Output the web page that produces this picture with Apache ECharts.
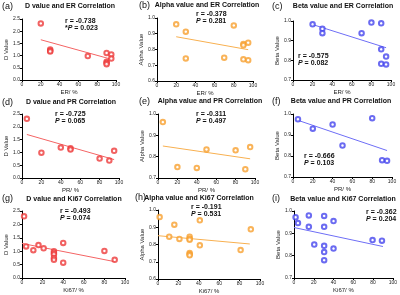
<!DOCTYPE html>
<html>
<head>
<meta charset="utf-8">
<script src="https://cdn.jsdelivr.net/npm/echarts@6/dist/echarts.min.js"></script>
<style>
  html, body { margin: 0; padding: 0; background: #fff; }
  #main { width: 400px; height: 295px; }
</style>
</head>
<body>
<div id="main"></div>
<script>
// 数据：每个面板的散点 [x, y] 与回归线端点
var erD = [[20, 2.32], [30, 1.25], [30, 1.2], [30, 1.17], [70, 0.98], [90, 1.11], [90, 0.75], [90, 0.7], [90, 0.65], [95, 1.05], [95, 0.88]];
var erDFit = [[20, 1.65], [95, 0.85]];
var erAlpha = [[20, 0.96], [30, 0.913], [30, 0.743], [70, 0.748], [80, 0.953], [90, 0.835], [90, 0.827], [90, 0.738], [95, 0.843], [95, 0.732]];
var erAlphaFit = [[20, 0.881], [95, 0.799]];
var erBeta = [[20, 0.983], [30, 0.96], [30, 0.938], [70, 0.938], [80, 0.992], [90, 0.988], [90, 0.856], [95, 0.819], [90, 0.782], [95, 0.779]];
var erBetaFit = [[20, 0.982], [95, 0.864]];

var prD = [[5, 2.31], [20, 0.99], [40, 1.19], [50, 1.16], [50, 1.11], [80, 0.76], [90, 0.68], [95, 1.06]];
var prDFit = [[5, 1.70], [95, 0.72]];
var prAlpha = [[5, 0.962], [20, 0.751], [40, 0.747], [50, 0.834], [80, 0.83], [90, 0.741], [95, 0.845]];
var prAlphaFit = [[5, 0.85], [95, 0.79]];
var prBeta = [[5, 0.975], [20, 0.93], [40, 0.95], [50, 0.85], [80, 0.98], [90, 0.78], [95, 0.777]];
var prBetaFit = [[5, 0.97], [95, 0.826]];

var kiD = [[2, 2.30], [4, 1.18], [11, 1.04], [16, 1.23], [21, 1.11], [31, 1.0], [31, 0.93], [31, 0.88], [31, 0.75], [31, 0.68], [40, 1.31], [40, 0.57], [80, 1.01], [90, 0.68]];
var kiDFit = [[0, 1.29], [90, 0.61]];
var kiAlpha = [[1.6, 0.959], [11, 0.845], [16, 0.915], [21, 0.832], [31, 0.845], [31, 0.834], [31, 0.828], [31, 0.751], [31, 0.743], [31, 0.737], [41, 0.94], [41, 0.795], [81, 0.768], [91, 0.888]];
var kiAlphaFit = [[0, 0.851], [90, 0.803]];
var kiBeta = [[1.6, 0.972], [4, 0.946], [15, 0.98], [15, 0.929], [20.5, 0.85], [30.5, 0.978], [30.5, 0.929], [30.5, 0.844], [30.5, 0.816], [30.5, 0.78], [40, 0.955], [40, 0.832], [79.5, 0.87], [89, 0.867]];
var kiBetaFit = [[0, 0.926], [90, 0.841]];

var titles = ['D value and ER Correlation', 'Alpha value and ER Correlation', 'Beta value and ER Correlation',
  'D value and PR Correlation', 'Alpha value and PR Correlation', 'Beta value and PR Correlation',
  'D value and Ki67 Correlation', 'Alpha value and Ki67 Correlation', 'Beta value and Ki67 Correlation'];
var tags = ['(a)', '(b)', '(c)', '(d)', '(e)', '(f)', '(g)', '(h)', '(i)'];
var rVals = ['-0.738', '-0.378', '-0.575', '-0.725', '-0.311', '-0.666', '-0.493', '-0.191', '-0.362'];
var pVals = ['0.023', '0.281', '0.082', '0.065', '0.497', '0.103', '0.074', '0.531', '0.204'];
var pStar = ['*', '', '', '', '', '', '', '', ''];
var xNames = ['ER/ %', 'ER/ %', 'ER/ %', 'PR/ %', 'PR/ %', 'PR/ %', 'Ki67/ %', 'Ki67/ %', 'Ki67/ %'];
var yNames = ['D Value', 'Alpha Value', 'Beta Value', 'D Value', 'Alpha Value', 'Beta Value', 'D Value', 'Alpha Value', 'Beta Value'];
var yMin = [0, 0.6, 0.7, 0, 0.7, 0.7, 0, 0.6, 0.7];
var yMax = [2.5, 1.0, 1.0, 2.5, 1.0, 1.0, 2.5, 1.0, 1.0];
var yStep = [0.5, 0.1, 0.1, 0.5, 0.1, 0.1, 0.5, 0.1, 0.1];

var points = [erD, erAlpha, erBeta, prD, prAlpha, prBeta, kiD, kiAlpha, kiBeta];
var fits = [erDFit, erAlphaFit, erBetaFit, prDFit, prAlphaFit, prBetaFit, kiDFit, kiAlphaFit, kiBetaFit];

// 布局
var grids = [
  { left: 22, top: 19, width: 94, height: 61 },
  { left: 157, top: 18, width: 96, height: 63 },
  { left: 293, top: 21, width: 98, height: 59 },
  { left: 22, top: 114, width: 97, height: 64 },
  { left: 158, top: 114, width: 97, height: 64 },
  { left: 293, top: 114, width: 99, height: 63 },
  { left: 22, top: 211, width: 103, height: 67 },
  { left: 158, top: 210, width: 102, height: 69 },
  { left: 294, top: 211, width: 102, height: 67 }
];
var titlePos = [[70, 3], [207, 2], [343, 3], [71, 99], [210, 98], [341, 98], [74, 196], [199, 195], [343, 196]];
var tagPos = [[2, 2], [139, 1], [272, 2], [2, 98], [139, 97], [272, 97], [2, 194], [135, 193], [272, 194]];
var statPos = [[65, 18], [196, 11], [298, 53], [55, 111], [196, 111], [304, 153], [60, 208], [213, 204], [366, 209]];
var statAlign = ['left', 'left', 'left', 'left', 'left', 'left', 'left', 'center', 'left'];

var colors = ['#ee3b3b', '#f7a030', '#4646ee'];
var lineColors = ['#f46464', '#f8b050', '#6e6ef6'];

var xAxes = [], yAxes = [], series = [], graphics = [];
for (var i = 0; i < 9; i++) {
  var c = i % 3;
  xAxes.push({
    gridIndex: i, type: 'value', min: 0, max: 100, interval: 20,
    name: xNames[i], nameLocation: 'middle', nameGap: 9,
    nameTextStyle: { fontSize: 6, color: '#222', fontFamily: 'Liberation Sans' },
    axisLine: { lineStyle: { color: '#000', width: 1 } },
    axisTick: { length: 2, lineStyle: { color: '#000' } },
    axisLabel: { fontSize: 5, margin: 2, color: '#222', fontFamily: 'Liberation Sans' },
    splitLine: { show: false }
  });
  yAxes.push({
    gridIndex: i, type: 'value', min: yMin[i], max: yMax[i], interval: yStep[i],
    name: yNames[i], nameLocation: 'middle', nameGap: 12,
    nameTextStyle: { fontSize: 6, color: '#222', fontFamily: 'Liberation Sans' },
    axisLine: { show: true, lineStyle: { color: '#000', width: 1 } },
    axisTick: { show: true, length: 2, lineStyle: { color: '#000' } },
    axisLabel: { fontSize: 5, margin: 2, color: '#222', fontFamily: 'Liberation Sans',
      formatter: function (v) { return v.toFixed(1); } },
    splitLine: { show: false }
  });
  series.push({
    type: 'line', xAxisIndex: i, yAxisIndex: i, data: fits[i], symbol: 'none',
    lineStyle: { color: lineColors[c], width: 1 }, silent: true, z: 2
  });
  series.push({
    type: 'scatter', xAxisIndex: i, yAxisIndex: i, data: points[i],
    symbol: 'emptyCircle', symbolSize: 4.5,
    itemStyle: { color: colors[c], borderColor: colors[c], borderWidth: 1.3 }, z: 3
  });
  graphics.push({
    type: 'text', x: titlePos[i][0], y: titlePos[i][1],
    style: { text: titles[i], textAlign: 'center', textVerticalAlign: 'top', font: 'bold 7px "Liberation Sans"', fill: '#111' }
  });
  graphics.push({
    type: 'text', x: tagPos[i][0], y: tagPos[i][1],
    style: { text: tags[i], textVerticalAlign: 'top', font: '9px "Liberation Sans"', fill: '#111' }
  });
  graphics.push({
    type: 'text', x: statPos[i][0] - (statAlign[i] === 'center' ? 22 : 0), y: statPos[i][1],
    style: {
      text: '{b|r = ' + rVals[i] + '}\n{b|' + pStar[i] + '}{i|P}{b| = ' + pVals[i] + '}',
      textAlign: 'left', textVerticalAlign: 'top',
      rich: {
        b: { font: 'bold 7px "Liberation Sans"', fill: '#111', lineHeight: 7 },
        i: { font: 'italic bold 7px "Liberation Sans"', fill: '#111', lineHeight: 7 }
      }
    }
  });
}

var chart = echarts.init(document.getElementById('main'));
chart.setOption({
  animation: false,
  grid: grids,
  xAxis: xAxes,
  yAxis: yAxes,
  series: series,
  graphic: graphics
});
</script>
</body>
</html>
